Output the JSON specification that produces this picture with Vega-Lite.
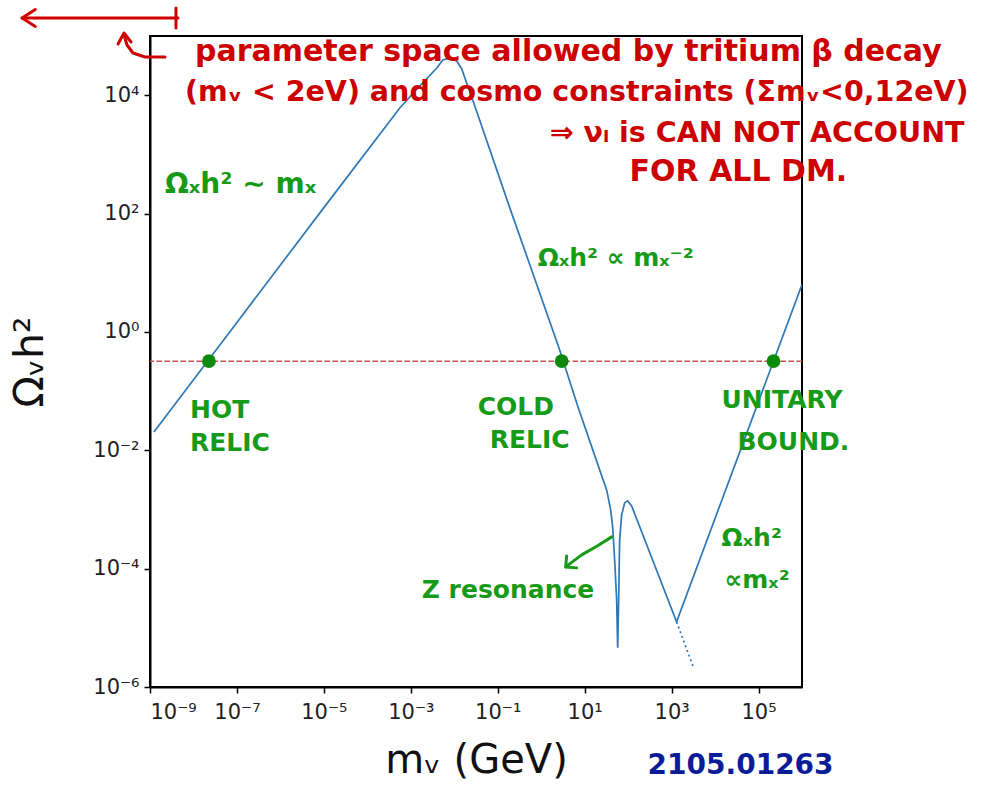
{
  "$schema": "https://vega.github.io/schema/vega-lite/v6.json",
  "width": 652,
  "height": 651,
  "autosize": "none",
  "padding": {"left": 150, "top": 36, "right": 187, "bottom": 103},
  "background": "white",
  "config": {
    "view": {"stroke": "black", "strokeWidth": 2},
    "axis": {
      "domainColor": "black", "domainWidth": 2, "tickColor": "black", "tickWidth": 1.5, "tickSize": 6,
      "labelFont": "DejaVu Sans", "labelFontSize": 21, "labelColor": "#222",
      "titleFont": "DejaVu Sans", "titleFontWeight": "normal", "titleColor": "#111", "grid": false
    }
  },
  "datasets": {
    "curve": [
      {"x": 1.23e-9, "y": 0.0204},
      {"x": 1e-7, "y": 1.445},
      {"x": 1e-5, "y": 125.9},
      {"x": 5.58e-4, "y": 6081},
      {"x": 1.61e-3, "y": 14289},
      {"x": 3.96e-3, "y": 28774},
      {"x": 5.45e-3, "y": 39355},
      {"x": 7.89e-3, "y": 42462},
      {"x": 0.0114, "y": 37844},
      {"x": 0.01486, "y": 27733},
      {"x": 0.0204, "y": 14289},
      {"x": 0.0266, "y": 8299},
      {"x": 0.1888, "y": 125.9},
      {"x": 1.837, "y": 1.081},
      {"x": 2.661, "y": 0.4966},
      {"x": 6.902, "y": 0.0562},
      {"x": 22.13, "y": 0.004667},
      {"x": 32.06, "y": 0.002143},
      {"x": 39.63, "y": 0.000984},
      {"x": 44.06, "y": 0.000508},
      {"x": 48.98, "y": 0.000141},
      {"x": 54.45, "y": 0.0000297},
      {"x": 57.41, "y": 0.00000459},
      {"x": 60.53, "y": 0.0000297},
      {"x": 63.83, "y": 0.000306},
      {"x": 70.96, "y": 0.000811},
      {"x": 83.18, "y": 0.00129},
      {"x": 97.5, "y": 0.0014},
      {"x": 120.2, "y": 0.00115},
      {"x": 1303, "y": 0.0000126},
      {"x": 1000000, "y": 6.31}
    ],
    "dotted": [
      {"x": 1303, "y": 0.0000126},
      {"x": 3206, "y": 0.00000211}
    ],
    "dots": [
      {"x": 2.27e-8, "y": 0.32},
      {"x": 2.96, "y": 0.32},
      {"x": 221000, "y": 0.32}
    ],
    "redlines": [
      {"seg": "a", "ord": 1, "x": 1.14e-12, "y": 201000},
      {"seg": "a", "ord": 2, "x": 4.4e-9, "y": 201000},
      {"seg": "b", "ord": 1, "x": 2.3e-12, "y": 280000},
      {"seg": "b", "ord": 2, "x": 1.14e-12, "y": 201000},
      {"seg": "b", "ord": 3, "x": 2.3e-12, "y": 145000},
      {"seg": "c", "ord": 1, "x": 3.96e-9, "y": 297000},
      {"seg": "c", "ord": 2, "x": 3.96e-9, "y": 136500},
      {"seg": "d", "ord": 1, "x": 2.21e-9, "y": 44200},
      {"seg": "d", "ord": 2, "x": 7.67e-10, "y": 44200},
      {"seg": "d", "ord": 3, "x": 4.06e-10, "y": 51600},
      {"seg": "d", "ord": 4, "x": 2.96e-10, "y": 70400},
      {"seg": "d", "ord": 5, "x": 2.52e-10, "y": 104000},
      {"seg": "e", "ord": 1, "x": 1.84e-10, "y": 73300},
      {"seg": "e", "ord": 2, "x": 2.52e-10, "y": 112400},
      {"seg": "e", "ord": 3, "x": 3.66e-10, "y": 79200}
    ],
    "greenlines": [
      {"seg": "a", "ord": 1, "x": 41.8, "y": 0.000344},
      {"seg": "a", "ord": 2, "x": 19.9, "y": 0.000243},
      {"seg": "a", "ord": 3, "x": 8.53, "y": 0.000171},
      {"seg": "a", "ord": 4, "x": 3.66, "y": 0.000107},
      {"seg": "b", "ord": 1, "x": 3.85, "y": 0.000164},
      {"seg": "b", "ord": 2, "x": 3.66, "y": 0.000107},
      {"seg": "b", "ord": 3, "x": 6.55, "y": 0.000103}
    ],
    "redbig": [
      {"t": "parameter space allowed by tritium β decay", "x": 1.08e-8, "y": 53700},
      {"t": "FOR ALL DM.", "x": 108, "y": 505}
    ],
    "redtext": [
      {"t": "(mᵥ < 2eV)  and  cosmo constraints (Σmᵥ<0,12eV)", "x": 6.38e-9, "y": 11330},
      {"t": "⇒ νₗ is CAN NOT ACCOUNT", "x": 1.567, "y": 2296}
    ],
    "greenbig": [
      {"t": "Ωₓh² ∼ mₓ", "x": 2.21e-9, "y": 304}
    ],
    "greentext": [
      {"t": "Ωₓh² ∝ mₓ⁻²", "x": 0.832, "y": 17.8},
      {"t": "HOT", "x": 8.32e-9, "y": 0.0481},
      {"t": "RELIC", "x": 8.32e-9, "y": 0.01334},
      {"t": "COLD", "x": 0.0347, "y": 0.0541},
      {"t": "RELIC", "x": 0.0655, "y": 0.015},
      {"t": "UNITARY", "x": 14100, "y": 0.071},
      {"t": "BOUND.", "x": 32900, "y": 0.01387},
      {"t": "Z resonance", "x": 0.00179, "y": 0.0000439},
      {"t": "Ωₓh²", "x": 14100, "y": 0.000331},
      {"t": "∝mₓ²", "x": 16500, "y": 0.0000647}
    ],
    "bluetext": [
      {"t": "2105.01263", "x": 280.5, "y": 4.67e-8}
    ]
  },
  "encoding": {
    "x": {
      "field": "x", "type": "quantitative",
      "scale": {"type": "log", "domain": [1e-9, 1000000], "nice": false},
      "axis": {
        "values": [1e-9, 1e-7, 1e-5, 0.001, 0.1, 10, 1000, 100000],
        "labelExpr": "datum.value < 1e-8 ? '10⁻⁹' : datum.value < 1e-6 ? '10⁻⁷' : datum.value < 1e-4 ? '10⁻⁵' : datum.value < 0.01 ? '10⁻³' : datum.value < 1 ? '10⁻¹' : datum.value < 100 ? '10¹' : datum.value < 10000 ? '10³' : '10⁵'",
        "title": "mᵥ (GeV)", "titleFontSize": 40, "titlePadding": 18, "labelPadding": 8
      }
    },
    "y": {
      "field": "y", "type": "quantitative",
      "scale": {"type": "log", "domain": [1e-6, 100000], "nice": false},
      "axis": {
        "values": [1e-6, 0.0001, 0.01, 1, 100, 10000],
        "labelExpr": "datum.value < 1e-5 ? '10⁻⁶' : datum.value < 0.001 ? '10⁻⁴' : datum.value < 0.1 ? '10⁻²' : datum.value < 10 ? '10⁰' : datum.value < 1000 ? '10²' : '10⁴'",
        "title": "Ωᵥh²", "titleFontSize": 41, "titlePadding": 41, "labelPadding": 5
      }
    }
  },
  "layer": [
    {
      "data": {"values": [{"y": 0.32}]},
      "mark": {"type": "rule", "color": "#c85050", "strokeWidth": 1.5, "strokeDash": [5.5, 2.5]},
      "encoding": {"x": null, "y": {"field": "y", "type": "quantitative"}}
    },
    {
      "data": {"name": "curve"},
      "mark": {"type": "line", "color": "#2e78b5", "strokeWidth": 1.7, "clip": true}
    },
    {
      "data": {"name": "dotted"},
      "mark": {"type": "line", "color": "#2e78b5", "strokeWidth": 1.7, "strokeDash": [2, 3]}
    },
    {
      "data": {"name": "dots"},
      "mark": {"type": "point", "filled": true, "color": "#0b8a0b", "size": 190, "opacity": 1}
    },
    {
      "data": {"name": "redlines"},
      "mark": {"type": "line", "color": "#d00000", "strokeWidth": 3, "clip": false, "strokeCap": "round", "strokeJoin": "round"},
      "encoding": {"detail": {"field": "seg"}, "order": {"field": "ord"}}
    },
    {
      "data": {"name": "greenlines"},
      "mark": {"type": "line", "color": "#179a17", "strokeWidth": 3, "clip": false, "strokeCap": "round", "strokeJoin": "round"},
      "encoding": {"detail": {"field": "seg"}, "order": {"field": "ord"}}
    },
    {
      "data": {"name": "redbig"},
      "mark": {"type": "text", "align": "left", "baseline": "middle", "font": "DejaVu Sans", "fontWeight": "bold", "fontSize": 30, "color": "#cc0000", "clip": false},
      "encoding": {"text": {"field": "t"}}
    },
    {
      "data": {"name": "redtext"},
      "mark": {"type": "text", "align": "left", "baseline": "middle", "font": "DejaVu Sans", "fontWeight": "bold", "fontSize": 28.5, "color": "#cc0000", "clip": false},
      "encoding": {"text": {"field": "t"}}
    },
    {
      "data": {"name": "greenbig"},
      "mark": {"type": "text", "align": "left", "baseline": "middle", "font": "DejaVu Sans", "fontWeight": "bold", "fontSize": 28, "color": "#179a17", "clip": false},
      "encoding": {"text": {"field": "t"}}
    },
    {
      "data": {"name": "greentext"},
      "mark": {"type": "text", "align": "left", "baseline": "middle", "font": "DejaVu Sans", "fontWeight": "bold", "fontSize": 25, "color": "#179a17", "clip": false},
      "encoding": {"text": {"field": "t"}}
    },
    {
      "data": {"name": "bluetext"},
      "mark": {"type": "text", "align": "left", "baseline": "middle", "font": "DejaVu Sans", "fontWeight": "bold", "fontSize": 28, "color": "#0b1d96", "clip": false},
      "encoding": {"text": {"field": "t"}}
    }
  ]
}
